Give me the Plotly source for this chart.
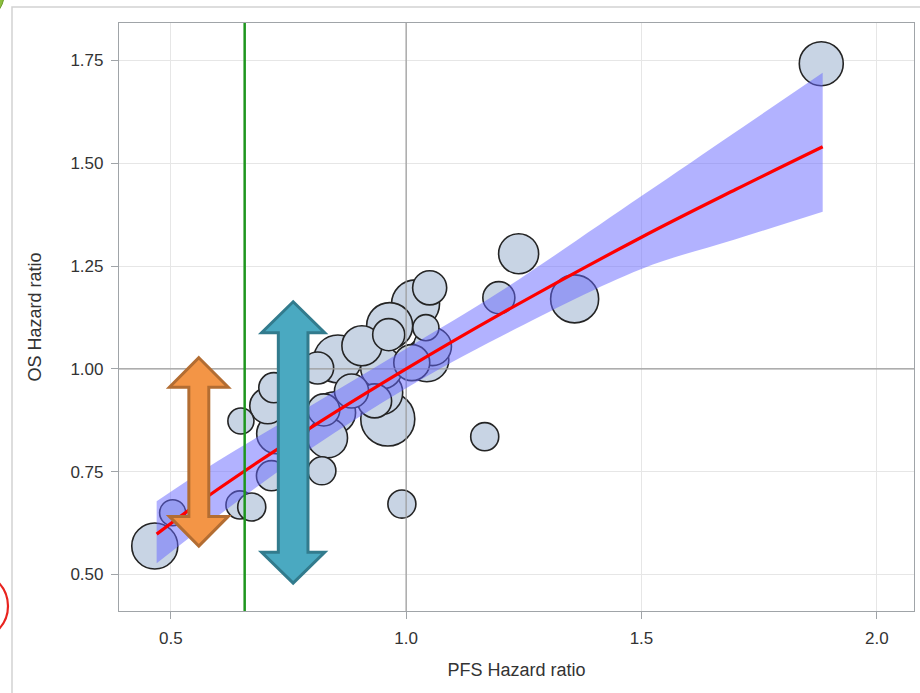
import plotly.graph_objects as go

# ---------------- data ----------------
pfs_hr = [1.882, 0.466, 0.504, 0.649, 0.647, 0.672, 0.821, 0.991, 1.167, 1.239,
          1.197, 1.358, 1.050, 1.020, 1.042, 0.963, 0.965, 1.044, 1.056, 0.855,
          0.812, 0.948, 0.946, 0.961, 0.848, 0.825, 0.833, 0.719, 0.706, 0.725,
          0.714, 0.933, 1.012, 0.906, 0.884]
os_hr = [1.742, 0.569, 0.650, 0.873, 0.669, 0.664, 0.752, 0.671, 0.835, 1.280,
         1.173, 1.170, 1.197, 1.158, 1.100, 1.083, 1.105, 1.022, 1.054, 1.024,
         1.002, 1.002, 0.942, 0.878, 0.893, 0.900, 0.832, 0.954, 0.910, 0.842,
         0.740, 0.922, 1.015, 1.056, 0.946]
n_patients = [1450, 1590, 510, 510, 590, 590, 590, 590, 590, 1200,
              770, 1730, 870, 1730, 510, 770, 1590, 1450, 1080, 1730,
              770, 1320, 1450, 2190, 1320, 770, 1200, 680, 970, 1200,
              680, 870, 970, 1200, 870]

fit_x = [0.47, 0.60, 0.80, 1.00, 1.20, 1.50, 1.70, 1.885]
fit_y = [0.598, 0.707, 0.859, 1.000, 1.133, 1.320, 1.436, 1.540]
ci_upper = [0.678, 0.776, 0.912, 1.049, 1.188, 1.420, 1.576, 1.720]
ci_lower = [0.527, 0.642, 0.808, 0.953, 1.078, 1.243, 1.315, 1.382]

threshold_pfs = 0.657

x_ticks = [0.5, 1.0, 1.5, 2.0]
x_tick_labels = ["0.5", "1.0", "1.5", "2.0"]
y_ticks = [0.50, 0.75, 1.00, 1.25, 1.50, 1.75]
y_tick_labels = ["0.50", "0.75", "1.00", "1.25", "1.50", "1.75"]

X_RANGE = [0.390, 2.079]
Y_RANGE = [0.411, 1.841]

# ---------------- figure ----------------
fig = go.Figure()

order = sorted(range(len(pfs_hr)), key=lambda i: -n_patients[i])
fig.add_trace(go.Scatter(
    x=[pfs_hr[i] for i in order], y=[os_hr[i] for i in order],
    mode="markers",
    marker=dict(size=[n_patients[i] for i in order], sizemode="area", sizeref=1.5,
                color="#C8D4E4", line=dict(color="#242424", width=1.6), opacity=1),
    showlegend=False, hoverinfo="x+y"))

# reference lines at HR = 1 (drawn over bubbles)
fig.add_trace(go.Scatter(x=[1, 1], y=Y_RANGE, mode="lines",
                         line=dict(color="#9A9A9A", width=1.2), showlegend=False, hoverinfo="skip"))
fig.add_trace(go.Scatter(x=X_RANGE, y=[1, 1], mode="lines",
                         line=dict(color="#9A9A9A", width=1.2), showlegend=False, hoverinfo="skip"))

# confidence band
fig.add_trace(go.Scatter(x=fit_x, y=ci_lower, mode="lines", line=dict(width=0, shape="spline"),
                         showlegend=False, hoverinfo="skip"))
fig.add_trace(go.Scatter(x=fit_x, y=ci_upper, mode="lines", line=dict(width=0, shape="spline"),
                         fill="tonexty", fillcolor="rgba(102,102,255,0.5)",
                         showlegend=False, hoverinfo="skip"))
# regression line
fig.add_trace(go.Scatter(x=fit_x, y=fit_y, mode="lines",
                         line=dict(color="#FF0000", width=3.2, shape="spline"),
                         showlegend=False, hoverinfo="skip"))

shapes = []
# green threshold line
shapes.append(dict(type="line", xref="x", yref="paper", x0=threshold_pfs, x1=threshold_pfs,
                   y0=0, y1=1, line=dict(color="#1E961E", width=2.5), layer="above"))


def double_arrow(cx, yb, yt, sw, hw, hl):
    pts = [(cx, yt), (cx + hw, yt - hl), (cx + sw, yt - hl), (cx + sw, yb + hl),
           (cx + hw, yb + hl), (cx, yb), (cx - hw, yb + hl), (cx - sw, yb + hl),
           (cx - sw, yt - hl), (cx - hw, yt - hl)]
    return "M " + " L ".join(f"{x:.4f},{y:.4f}" for x, y in pts) + " Z"


shapes.append(dict(type="path", xref="x", yref="y",
                   path=double_arrow(0.5596, 0.569, 1.027, 0.0212, 0.0625, 0.072),
                   fillcolor="#F39546", line=dict(color="#B36D32", width=3), layer="above"))
shapes.append(dict(type="path", xref="x", yref="y",
                   path=double_arrow(0.760, 0.479, 1.163, 0.0315, 0.0670, 0.075),
                   fillcolor="#4AA9C1", line=dict(color="#327B8D", width=3), layer="above"))

# outer panel frame (top / left edges visible)
PL, PR, PT, PB = 119, 914, 23, 611
def px_x(px):
    return (px - PL) / (PR - PL)
def px_y(py):
    return (PB - py) / (PB - PT)

shapes.append(dict(type="rect", xref="paper", yref="paper",
                   x0=px_x(12), x1=px_x(940), y0=px_y(7), y1=px_y(720),
                   line=dict(color="#D2D2D2", width=1.5), fillcolor="rgba(0,0,0,0)", layer="below"))
# decorative partial circles at the picture edges
shapes.append(dict(type="circle", xref="paper", yref="paper",
                   x0=px_x(-44), x1=px_x(4), y0=px_y(19), y1=px_y(-29),
                   fillcolor="#8CBF3F", line=dict(color="#6E9E2C", width=1), layer="above"))
shapes.append(dict(type="circle", xref="paper", yref="paper",
                   x0=px_x(-60), x1=px_x(8), y0=px_y(640), y1=px_y(572),
                   fillcolor="rgba(0,0,0,0)", line=dict(color="#E8231E", width=2.2), layer="above"))

fig.update_layout(
    width=920, height=693,
    margin=dict(l=PL, r=920 - PR, t=PT, b=693 - PB),
    paper_bgcolor="white", plot_bgcolor="white",
    shapes=shapes,
    font=dict(family="Arial, Liberation Sans, sans-serif", color="#333333"),
    showlegend=False,
)
fig.update_xaxes(range=X_RANGE, tickvals=x_ticks, ticktext=x_tick_labels,
                 showgrid=True, gridcolor="#E6E6E6", gridwidth=1,
                 showline=True, linecolor="#A0A4A8", linewidth=1.2, mirror=True,
                 ticks="outside", ticklen=7, tickcolor="#A0A4A8", ticklabelstandoff=4,
                 tickfont=dict(size=17, color="#333333"), zeroline=False,
                 title=dict(text="PFS Hazard ratio", font=dict(size=18, color="#333333"), standoff=16))
fig.update_yaxes(range=Y_RANGE, tickvals=y_ticks, ticktext=y_tick_labels,
                 showgrid=True, gridcolor="#E6E6E6", gridwidth=1,
                 showline=True, linecolor="#A0A4A8", linewidth=1.2, mirror=True,
                 ticks="outside", ticklen=7, tickcolor="#A0A4A8", ticklabelstandoff=4,
                 tickfont=dict(size=17, color="#333333"), zeroline=False,
                 title=dict(text="OS Hazard ratio", font=dict(size=18, color="#333333"), standoff=24))

fig.write_html("out.html")
